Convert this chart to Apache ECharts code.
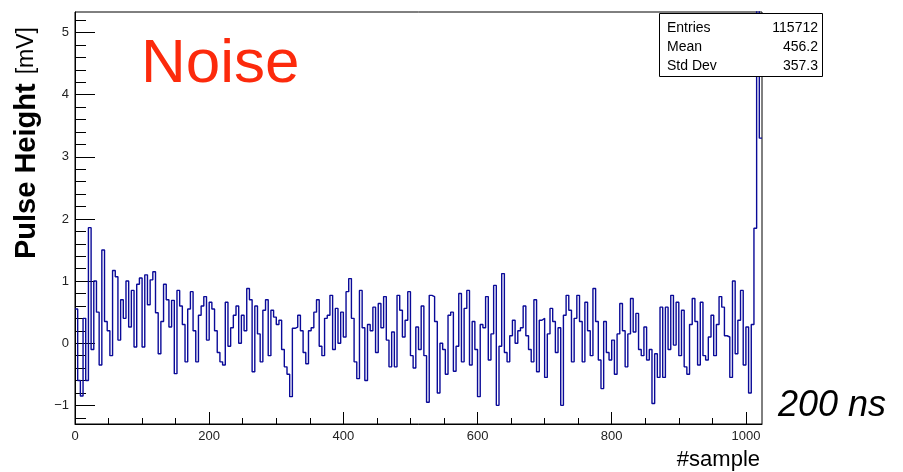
<!DOCTYPE html>
<html lang="en">
<head>
<meta charset="UTF-8">
<title>Noise</title>
<script src="https://cdn.jsdelivr.net/npm/echarts@6/dist/echarts.min.js"></script>
<style>
  html, body { margin: 0; padding: 0; background: #fff; }
  #chart { width: 903px; height: 472px; }
</style>
</head>
<body>
<div id="chart"></div>
<script>
  // pulse height per bin (mV), 4 samples per bin, 1024 samples total
  var binWidth = 4;
  var noise = [
    0.55, -0.6, -0.85, 0.4, -0.6, 1.86, -0.1, 1.0, 0.5, -0.35,
    1.5, 0.35, 0.2, -0.2, 1.17, 1.07, 0.05, 0.7, 0.4, 1.0,
    0.26, 0.85, -0.06, 0.95, 1.05, -0.06, 1.1, 0.62, 1.02, 1.15,
    0.49, -0.17, 0.35, 0.95, 0.7, 0.26, 0.69, -0.49, 0.85, 0.6,
    0.3, -0.3, 0.55, 0.83, 0.2, -0.3, 0.45, 0.6, 0.75, 0.05,
    0.66, 0.55, 0.2, -0.15, -0.3, -0.35, 0.66, -0.05, 0.25, 0.45,
    0.6, 0.0, 0.45, 0.2, 0.88, 0.7, -0.46, 0.6, 0.15, -0.3,
    0.53, 0.7, -0.2, 0.53, 0.42, 0.3, 0.37, -0.1, -0.38, -0.5,
    -0.86, 0.24, 0.26, 0.45, 0.2, -0.15, -0.33, 0.2, 0.25, 0.5,
    0.7, -0.05, -0.2, 0.4, 0.45, 0.77, -0.1, 0.56, 0.0, 0.5,
    0.1, 0.83, 1.04, 0.4, -0.3, -0.57, 0.85, 0.25, -0.6, 0.3,
    0.2, 0.58, -0.15, 0.64, 0.25, 0.75, 0.05, -0.38, 0.18, -0.38,
    0.77, 0.53, 0.1, 0.37, 0.83, -0.2, -0.4, 0.26, -0.1, 0.6,
    -0.2, -0.95, 0.77, 0.75, 0.35, -0.8, 0.0, -0.1, -0.5, 0.45,
    0.5, -0.45, -0.05, 0.8, -0.3, 0.56, 0.85, -0.35, 0.35, -0.1,
    -0.86, 0.3, 0.25, 0.75, -0.27, 0.15, 0.93, -1.0, -0.05, 1.12,
    -0.15, -0.3, 0.12, 0.37, 0.0, 0.2, 0.25, 0.6, 0.12, -0.1,
    -0.3, 0.7, -0.46, 0.37, 0.4, -0.55, 0.15, 0.56, 0.35, -0.15,
    0.25, -1.0, 0.45, 0.77, 0.53, -0.3, 0.4, 0.77, 0.35, -0.3,
    0.66, 0.2, -0.2, 0.88, 0.35, -0.27, -0.73, 0.35, -0.15, -0.27,
    0.05, -0.5, 0.15, 0.64, 0.2, -0.38, 0.15, 0.72, 0.18, 0.48,
    -0.1, -0.2, 0.26, -0.27, -0.1, -0.97, -0.17, -0.55, 0.58, -0.55,
    0.58, -0.1, 0.77, -0.03, 0.66, -0.2, 0.53, -0.38, -0.5, 0.3,
    0.72, 0.35, -0.35, 0.66, -0.2, -0.27, 0.1, 0.45, -0.2, 0.3,
    0.75, 0.58, 0.12, 0.1, -0.55, 1.0, -0.17, 0.37, 0.85, -0.35,
    0.26, -0.8, 0.3, 1.85, 7.0, 3.3
  ];

  var xMajorTicks = [0, 200, 400, 600, 800, 1000];
  var xMinorTicks = [50, 100, 150, 250, 300, 350, 450, 500, 550, 650, 700, 750, 850, 900, 950];
  var yMajorTicks = [-1, 0, 1, 2, 3, 4, 5];
  var yMinorTicks = [-1.2, -0.8, -0.6, -0.4, -0.2, 0.2, 0.4, 0.6, 0.8, 1.2, 1.4, 1.6, 1.8,
    2.2, 2.4, 2.6, 2.8, 3.2, 3.4, 3.6, 3.8, 4.2, 4.4, 4.6, 4.8, 5.2];

  var statNames = ['Entries', 'Mean', 'Std Dev'];
  var statValues = ['115712', '456.2', '357.3'];

  var data = noise.map(function (v, i) { return [i * binWidth, v]; });
  data.push([noise.length * binWidth, noise[noise.length - 1]]);

  var FONT = 'Liberation Sans, Arial, sans-serif';
  var chart = echarts.init(document.getElementById('chart'), null, { renderer: 'canvas' });

  var stats = [{
    type: 'rect', z: 100,
    shape: { x: 659.5, y: 13.5, width: 163, height: 63 },
    style: { fill: '#fff', stroke: '#000', lineWidth: 1 }
  }];
  statNames.forEach(function (name, i) {
    stats.push({ type: 'text', z: 101, x: 667, y: 28 + i * 19,
      style: { text: name, font: '14px ' + FONT, fill: '#000', verticalAlign: 'middle' } });
    stats.push({ type: 'text', z: 101, x: 818, y: 28 + i * 19,
      style: { text: statValues[i], font: '14px ' + FONT, fill: '#000', align: 'right', verticalAlign: 'middle' } });
  });

  chart.setOption({
    animation: false,
    grid: { left: 75, right: 141, top: 12, bottom: 48, show: true, borderColor: '#000', borderWidth: 1 },
    xAxis: [{
      type: 'value', min: 0, max: 1024, position: 'bottom',
      axisLine: { onZero: false, lineStyle: { color: '#000', width: 1 } },
      axisTick: { inside: true, length: 12, customValues: xMajorTicks, lineStyle: { color: '#000' } },
      axisLabel: { customValues: xMajorTicks, color: '#222', fontFamily: FONT, fontSize: 13, margin: 6,
        formatter: function (v) { return String(v); } },
      splitLine: { show: false }
    }, {
      type: 'value', min: 0, max: 1024, position: 'bottom',
      axisLine: { show: false, onZero: false },
      axisTick: { inside: true, length: 6, customValues: xMinorTicks, lineStyle: { color: '#000' } },
      axisLabel: { show: false },
      splitLine: { show: false }
    }],
    yAxis: [{
      type: 'value', min: -1.3, max: 5.33, position: 'left',
      axisLine: { show: true, onZero: false, lineStyle: { color: '#000', width: 1 } },
      axisTick: { inside: true, length: 20, customValues: yMajorTicks, lineStyle: { color: '#000' } },
      axisLabel: {
        customValues: yMajorTicks, color: '#222', fontFamily: FONT, fontSize: 13, margin: 6,
        formatter: function (v) { return String(v).replace('-', '\u2212'); }
      },
      splitLine: { show: false }
    }, {
      type: 'value', min: -1.3, max: 5.33, position: 'left',
      axisLine: { show: false, onZero: false },
      axisTick: { inside: true, length: 11, customValues: yMinorTicks, lineStyle: { color: '#000' } },
      axisLabel: { show: false },
      splitLine: { show: false }
    }],
    series: [{
      type: 'line', step: 'end', data: data, xAxisIndex: 0, yAxisIndex: 0,
      showSymbol: false, clip: true,
      lineStyle: { color: '#0a0a98', width: 1.4 }
    }],
    graphic: stats.concat([
      { type: 'text', x: 141, y: 65,
        style: { text: 'Noise', font: '62px ' + FONT, fill: '#fc2a0c', verticalAlign: 'middle' } },
      { type: 'text', x: 778, y: 406,
        style: { text: '200 ns', font: 'italic 36px ' + FONT, fill: '#000', verticalAlign: 'middle' } },
      { type: 'text', x: 760, y: 460,
        style: { text: '#sample', font: '22px ' + FONT, fill: '#000', align: 'right', verticalAlign: 'middle' } },
      { type: 'text', x: 27, y: 259, rotation: Math.PI / 2,
        style: {
          text: '{b|Pulse Height}{n|[mV]}', verticalAlign: 'middle', align: 'left',
          rich: {
            b: { font: 'bold 29px ' + FONT, fill: '#000' },
            n: { font: '23px ' + FONT, fill: '#000', padding: [0, 0, 0, 9] }
          }
        } }
    ])
  });
</script>
</body>
</html>
